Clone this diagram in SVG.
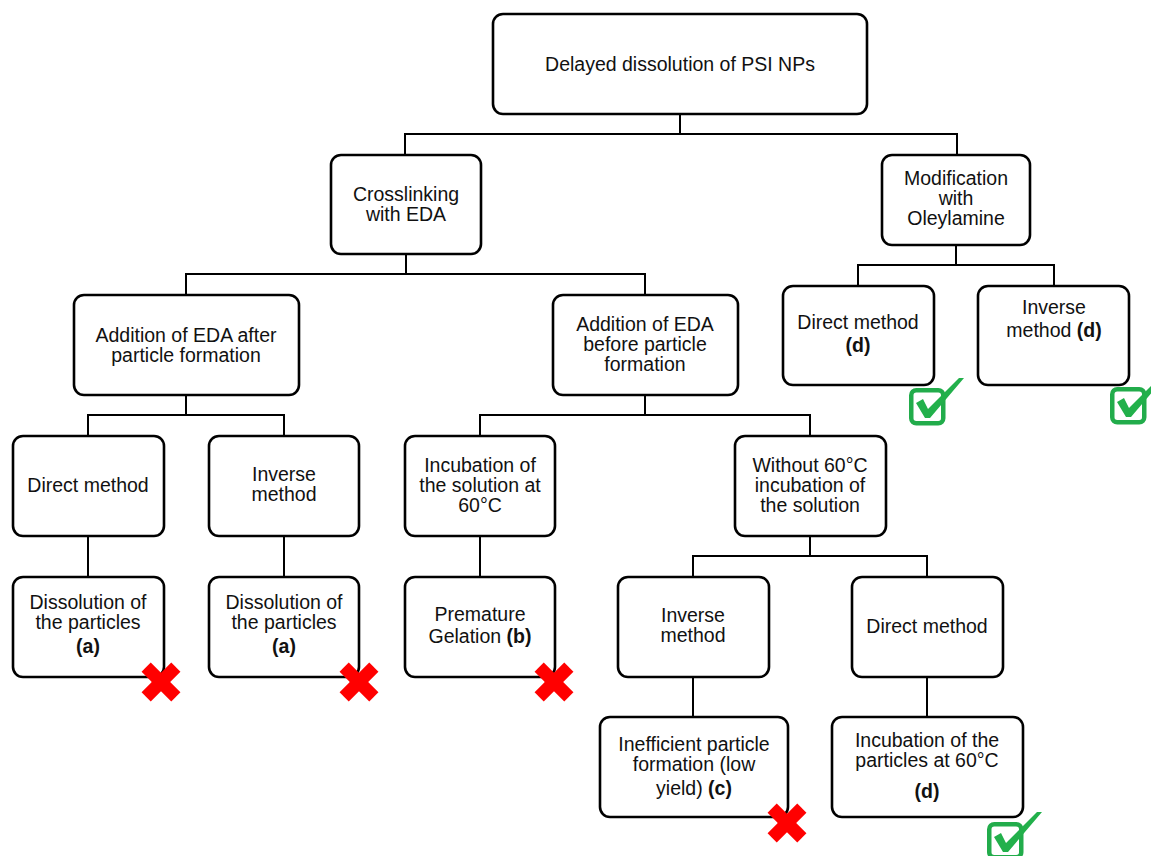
<svg xmlns="http://www.w3.org/2000/svg" xmlns:xlink="http://www.w3.org/1999/xlink" width="1151" height="856" viewBox="0 0 1151 856">
<style>
.box{fill:#fff;stroke:#000;stroke-width:2.6}
.lbl{font-family:"Liberation Sans",Arial,sans-serif;font-size:19.5px;fill:#111;text-anchor:middle}
.b{font-weight:bold}
.conn{fill:none;stroke:#000;stroke-width:2}
.xmark{fill:#f00}
.cbox{fill:#fff;stroke:#22AC4B;stroke-width:4.5}
.tick{fill:#22B04B}
</style>
<defs>
<g id="cross">
<rect class="xmark" x="-21" y="-6.5" width="42" height="13" transform="rotate(45)"/>
<rect class="xmark" x="-21" y="-6.5" width="42" height="13" transform="rotate(-45)"/>
</g>
<g id="check">
<rect class="cbox" x="2.25" y="2.25" width="32" height="33" rx="5"/>
<polygon class="tick" points="7,15 14,11 19,21 50,-10 55,-10 21,30 16,30"/>
</g>
</defs>
<rect width="1151" height="856" fill="#fff"/>
<g id="connectors">
<path class="conn" d="M680,114V134M405,155V134H957V155"/>
<path class="conn" d="M406,254V274M186,295V274H645V295"/>
<path class="conn" d="M956,245V265M858,286V265H1054V286"/>
<path class="conn" d="M186,395V415M88,436V415H284V436"/>
<path class="conn" d="M645,395V415M480,436V415H810V436"/>
<path class="conn" d="M88,536V577M284,536V577M480,536V577"/>
<path class="conn" d="M810,536V556M693,577V556H927V577"/>
<path class="conn" d="M693,677V717M927,677V717"/>
</g>
<g id="n-root"><rect class="box" x="493" y="14" width="374" height="100" rx="10"/><text class="lbl" x="680" y="71">Delayed dissolution of PSI NPs</text></g>
<g id="n-crosslink"><rect class="box" x="331" y="155" width="150" height="99" rx="10"/><text class="lbl" x="406" y="201">Crosslinking</text><text class="lbl" x="406" y="221">with EDA</text></g>
<g id="n-oleyl"><rect class="box" x="882" y="155" width="148" height="90" rx="10"/><text class="lbl" x="956" y="185">Modification</text><text class="lbl" x="956" y="205">with</text><text class="lbl" x="956" y="225">Oleylamine</text></g>
<g id="n-after"><rect class="box" x="74" y="295" width="225" height="100" rx="10"/><text class="lbl" x="186" y="342">Addition of EDA after</text><text class="lbl" x="186" y="362">particle formation</text></g>
<g id="n-before"><rect class="box" x="553" y="295" width="185" height="100" rx="10"/><text class="lbl" x="645" y="331">Addition of EDA</text><text class="lbl" x="645" y="351">before particle</text><text class="lbl" x="645" y="371">formation</text></g>
<g id="n-oleyl-direct"><rect class="box" x="783" y="286" width="151" height="99" rx="10"/><text class="lbl" x="858" y="329">Direct method</text><text class="lbl b" x="858" y="352">(d)</text></g>
<g id="n-oleyl-inverse"><rect class="box" x="978" y="286" width="151" height="99" rx="10"/><text class="lbl" x="1054" y="314">Inverse</text><text class="lbl" x="1054" y="337">method <tspan class="b">(d)</tspan></text></g>
<g id="n-after-direct"><rect class="box" x="13" y="436" width="151" height="100" rx="10"/><text class="lbl" x="88" y="492">Direct method</text></g>
<g id="n-after-inverse"><rect class="box" x="209" y="436" width="150" height="100" rx="10"/><text class="lbl" x="284" y="481">Inverse</text><text class="lbl" x="284" y="501">method</text></g>
<g id="n-incub"><rect class="box" x="405" y="436" width="150" height="100" rx="10"/><text class="lbl" x="480" y="472">Incubation of</text><text class="lbl" x="480" y="492">the solution at</text><text class="lbl" x="480" y="512">60°C</text></g>
<g id="n-without"><rect class="box" x="735" y="436" width="151" height="100" rx="10"/><text class="lbl" x="810" y="472">Without 60°C</text><text class="lbl" x="810" y="492">incubation of</text><text class="lbl" x="810" y="512">the solution</text></g>
<g id="n-diss1"><rect class="box" x="13" y="577" width="151" height="100" rx="10"/><text class="lbl" x="88" y="609">Dissolution of</text><text class="lbl" x="88" y="629">the particles</text><text class="lbl b" x="88" y="653">(a)</text></g>
<g id="n-diss2"><rect class="box" x="209" y="577" width="150" height="100" rx="10"/><text class="lbl" x="284" y="609">Dissolution of</text><text class="lbl" x="284" y="629">the particles</text><text class="lbl b" x="284" y="653">(a)</text></g>
<g id="n-gel"><rect class="box" x="405" y="577" width="150" height="100" rx="10"/><text class="lbl" x="480" y="621">Premature</text><text class="lbl" x="480" y="643">Gelation <tspan class="b">(b)</tspan></text></g>
<g id="n-w-inverse"><rect class="box" x="618" y="577" width="151" height="100" rx="10"/><text class="lbl" x="693" y="622">Inverse</text><text class="lbl" x="693" y="642">method</text></g>
<g id="n-w-direct"><rect class="box" x="852" y="577" width="151" height="100" rx="10"/><text class="lbl" x="927" y="633">Direct method</text></g>
<g id="n-ineff"><rect class="box" x="600" y="717" width="188" height="100" rx="10"/><text class="lbl" x="694" y="751">Inefficient particle</text><text class="lbl" x="694" y="771">formation (low</text><text class="lbl" x="694" y="795">yield) <tspan class="b">(c)</tspan></text></g>
<g id="n-incpart"><rect class="box" x="832" y="717" width="191" height="100" rx="10"/><text class="lbl" x="927" y="747">Incubation of the</text><text class="lbl" x="927" y="767">particles at 60°C</text><text class="lbl b" x="927" y="798">(d)</text></g>
<g id="marks">
<use xlink:href="#cross" x="161" y="682"/>
<use xlink:href="#cross" x="359" y="682"/>
<use xlink:href="#cross" x="554" y="682"/>
<use xlink:href="#cross" x="787" y="823"/>
<use xlink:href="#check" x="909" y="388"/>
<use xlink:href="#check" x="1110" y="387"/>
<use xlink:href="#check" x="987" y="822"/>
</g>
</svg>
